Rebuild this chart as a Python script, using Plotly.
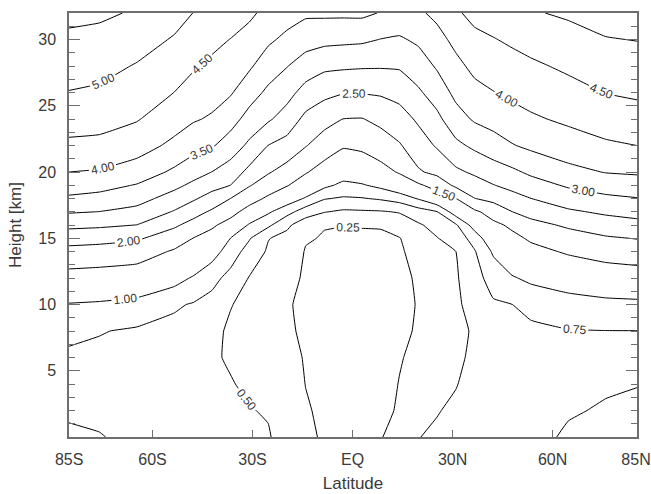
import numpy as np
import plotly.graph_objects as go

# Latitude of each model column (deg, negative = south)
latitudes = [-87.1875, -75.9375, -64.6875, -53.4375, -47.8125, -42.1875, -36.5625,
             -30.9375, -25.3125, -19.6875, -14.0625, -8.4375, -2.8125, 2.8125,
             8.4375, 14.0625, 19.6875, 25.3125, 30.9375, 36.5625, 42.1875,
             47.8125, 53.4375, 64.6875, 75.9375, 87.1875]

# Heights (km) of the vertical levels
heights = [0, 2, 4, 6, 8, 10, 12, 14, 15, 16, 17, 18, 19, 20, 22, 24, 26, 28, 30, 32]

# Field values, one profile (bottom -> top) per latitude
field_by_lat = [
    [0.78, 0.731, 0.69, 0.71, 0.83, 0.988, 1.330, 1.85, 2.22, 2.63, 3.058, 3.442, 3.736, 4.01, 4.41, 4.72, 4.995, 5.21, 5.42, 5.625],
    [0.76, 0.707, 0.66, 0.70, 0.762, 0.962, 1.296, 1.80, 2.167, 2.583, 2.995, 3.345, 3.662, 3.956, 4.378, 4.675, 4.925, 5.151, 5.366, 5.58],
    [0.70, 0.665, 0.63, 0.675, 0.72, 0.915, 1.245, 1.726, 2.065, 2.495, 2.857, 3.176, 3.471, 3.773, 4.212, 4.533, 4.75, 4.967, 5.207, 5.45],
    [0.66, 0.624, 0.589, 0.630, 0.685, 0.78, 1.103, 1.448, 1.733, 2.077, 2.462, 2.80, 3.118, 3.412, 3.886, 4.214, 4.495, 4.727, 4.955, 5.19],
    [0.64, 0.612, 0.585, 0.557, 0.628, 0.732, 0.973, 1.321, 1.495, 1.833, 2.192, 2.567, 2.90, 3.194, 3.68, 4.051, 4.308, 4.556, 4.778, 4.995],
    [0.60, 0.578, 0.556, 0.52, 0.53, 0.665, 0.825, 1.117, 1.33, 1.571, 1.929, 2.308, 2.667, 2.995, 3.549, 3.941, 4.187, 4.407, 4.624, 4.839],
    [0.57, 0.540, 0.509, 0.4825, 0.482, 0.505, 0.674, 0.872, 0.995, 1.323, 1.655, 1.995, 2.495, 2.763, 3.262, 3.692, 4.044, 4.267, 4.489, 4.744],
    [0.53, 0.508, 0.473, 0.431, 0.440, 0.466, 0.487, 0.652, 0.769, 0.962, 1.32, 1.69, 2.033, 2.367, 2.90, 3.32, 3.712, 4.065, 4.325, 4.589],
    [0.515, 0.486, 0.441, 0.395, 0.35, 0.396, 0.442, 0.47, 0.51, 0.804, 1.038, 1.423, 1.75, 2.045, 2.495, 3.067, 3.40, 3.75, 4.083, 4.361],
    [0.42, 0.39, 0.36, 0.33, 0.28, 0.265, 0.30, 0.40, 0.43, 0.547, 0.842, 1.154, 1.528, 1.806, 2.325, 2.783, 3.172, 3.519, 3.889, 4.206],
    [0.30, 0.271, 0.246, 0.231, 0.217, 0.217, 0.228, 0.235, 0.27, 0.36, 0.62, 0.972, 1.257, 1.537, 2.026, 2.377, 2.817, 3.278, 3.70, 4.083],
    [0.22, 0.2075, 0.195, 0.1825, 0.17, 0.191, 0.2115, 0.225, 0.235, 0.26, 0.5125, 0.766, 1.061, 1.305, 1.75, 2.178, 2.628, 3.108, 3.6375, 4.09],
    [0.20, 0.188, 0.175, 0.163, 0.15, 0.165, 0.18, 0.20, 0.22, 0.255, 0.4615, 0.722, 0.9375, 1.14, 1.545, 1.995, 2.528, 3.079, 3.608, 4.09],
    [0.19, 0.18, 0.17, 0.16, 0.145, 0.155, 0.17, 0.195, 0.22, 0.26, 0.471, 0.736, 0.976, 1.1875, 1.596, 1.981, 2.526, 3.053, 3.583, 4.10],
    [0.246, 0.215, 0.195, 0.18, 0.165, 0.165, 0.175, 0.20, 0.225, 0.262, 0.481, 0.779, 1.068, 1.338, 1.75, 2.128, 2.561, 3.044, 3.489, 3.976],
    [0.28, 0.265, 0.255, 0.24, 0.225, 0.225, 0.23, 0.235, 0.242, 0.356, 0.517, 0.857, 1.214, 1.542, 1.958, 2.30, 2.66, 3.058, 3.442, 3.84],
    [0.495, 0.43, 0.36, 0.285, 0.262, 0.255, 0.26, 0.29, 0.37, 0.47, 0.6375, 1.02, 1.42, 1.944, 2.271, 2.571, 2.929, 3.258, 3.583, 3.917],
    [0.53, 0.490, 0.442, 0.393, 0.345, 0.386, 0.428, 0.469, 0.490, 0.583, 0.745, 1.231, 1.70, 2.122, 2.55, 2.883, 3.224, 3.556, 3.833, 4.121],
    [0.58, 0.533, 0.491, 0.46, 0.43, 0.453, 0.47, 0.498, 0.609, 0.717, 1.143, 1.49, 2.094, 2.406, 2.886, 3.30, 3.622, 3.866, 4.132, 4.426],
    [0.61, 0.587, 0.563, 0.54, 0.53, 0.597, 0.663, 0.73, 0.85, 1.118, 1.412, 1.99, 2.294, 2.579, 3.10, 3.559, 3.853, 4.125, 4.375, 4.643],
    [0.636, 0.624, 0.612, 0.60, 0.661, 0.722, 0.845, 1.036, 1.214, 1.393, 1.70, 2.138, 2.483, 2.757, 3.289, 3.682, 3.985, 4.232, 4.476, 4.737],
    [0.67, 0.654, 0.638, 0.654, 0.701, 0.749, 0.972, 1.246, 1.387, 1.583, 1.995, 2.333, 2.635, 2.905, 3.471, 3.811, 4.099, 4.331, 4.577, 4.859],
    [0.705, 0.683, 0.66, 0.692, 0.723, 0.789, 1.0625, 1.375, 1.559, 1.853, 2.167, 2.495, 2.794, 3.088, 3.60, 3.933, 4.186, 4.419, 4.681, 4.958],
    [0.77, 0.737, 0.707, 0.717, 0.741, 0.878, 1.160, 1.55, 1.80, 2.071, 2.429, 2.75, 3.061, 3.364, 3.772, 4.0875, 4.3375, 4.585, 4.829, 5.067],
    [0.80, 0.763, 0.734, 0.728, 0.747, 0.92, 1.24, 1.684, 1.947, 2.258, 2.581, 2.903, 3.219, 3.52, 3.929, 4.232, 4.512, 4.744, 4.977, 5.1875],
    [0.82, 0.783, 0.748, 0.73, 0.748, 0.935, 1.283, 1.763, 2.033, 2.367, 2.6875, 2.995, 3.294, 3.568, 4.015, 4.318, 4.587, 4.804, 5.021, 5.234],
]

# Contour level sets: (start, end, step)
levels_low = (0.25, 1.0, 0.25)
levels_high = (1.5, 5.5, 0.5)

tick_lats = [-85, -60, -30, 0, 30, 60, 85]
tick_lat_labels = ["85S", "60S", "30S", "EQ", "30N", "60N", "85N"]
tick_heights = [5, 10, 15, 20, 25, 30]

z = np.array(field_by_lat).T  # rows = heights, cols = latitudes

FONT = "Liberation Sans, Arial, Helvetica, sans-serif"
TXT = "#3a3a3a"
AX = "#6e6e6e"
BLACK = [[0, "black"], [1, "black"]]

fig = go.Figure()
for start, end, step in (levels_low, levels_high):
    fig.add_trace(go.Contour(
        x=latitudes, y=heights, z=z,
        autocontour=False,
        colorscale=BLACK,
        contours=dict(start=start, end=end, size=step, coloring="lines",
                      showlabels=True, labelformat=".2f",
                      labelfont=dict(family=FONT, size=12, color="#333333")),
        line=dict(width=1, smoothing=0.3),
        showscale=False, hoverinfo="skip",
    ))

fig.update_layout(
    width=651, height=494,
    margin=dict(l=69, r=14, t=13, b=57),
    paper_bgcolor="white", plot_bgcolor="white",
    font=dict(family=FONT, size=16, color=TXT),
    showlegend=False,
)
fig.update_xaxes(
    range=[-85.05, 85.3], tickmode="array", tickvals=tick_lats, ticktext=tick_lat_labels,
    ticks="inside", ticklen=7, tickwidth=1, tickcolor=AX,
    showline=True, linecolor=AX, linewidth=1.5, mirror=True,
    showgrid=False, zeroline=False, ticklabelstandoff=7,
    ticklabeloverflow="allow",
    tickfont=dict(family=FONT, size=16, color=TXT),
    title=dict(text="Latitude", font=dict(family=FONT, size=17, color=TXT), standoff=10),
    automargin=False,
)
fig.update_yaxes(
    range=[0, 32], tickmode="array", tickvals=tick_heights,
    ticks="inside", ticklen=11, tickwidth=1, tickcolor=AX,
    minor=dict(dtick=1, tick0=0, ticks="inside", ticklen=6, tickcolor=AX, showgrid=False),
    showline=True, linecolor=AX, linewidth=1.5, mirror="allticks",
    showgrid=False, zeroline=False, ticklabelstandoff=8,
    ticklabeloverflow="allow",
    tickfont=dict(family=FONT, size=16, color=TXT),
    title=dict(text="Height [km]", font=dict(family=FONT, size=17, color=TXT), standoff=12),
    automargin=False,
)

fig.write_html("out.html")
